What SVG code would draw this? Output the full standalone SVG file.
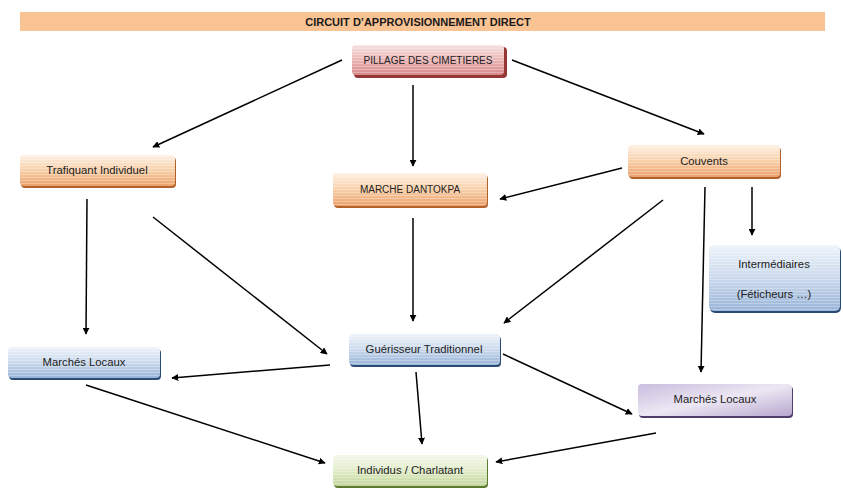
<svg xmlns="http://www.w3.org/2000/svg" width="843" height="488" viewBox="0 0 843 488">
<defs>
<style>
.lbl{font-family:"Liberation Sans","Open Sans",Arial,sans-serif;font-size:11.3px;fill:#222;text-anchor:middle;dominant-baseline:central}
.up{font-size:10px}
.title{font-family:"Liberation Sans","Open Sans",Arial,sans-serif;font-size:11px;font-weight:bold;fill:#1a1a1a;text-anchor:middle;dominant-baseline:central}
.con line{stroke:#000;stroke-width:1.5;marker-end:url(#ah)}
.stripes{fill:url(#str)}
</style>
<marker id="ah" viewBox="0 0 10 10" refX="9" refY="5" markerWidth="7" markerHeight="7" orient="auto" markerUnits="userSpaceOnUse">
<path d="M0,0 L10,5 L0,10 z" fill="#000"/>
</marker>
<pattern id="str" width="4" height="3" patternUnits="userSpaceOnUse">
<rect width="4" height="1" fill="#fff" fill-opacity="0.28"/>
</pattern>
<linearGradient id="gOr" x1="0" y1="0" x2="0" y2="1">
<stop offset="0" stop-color="#fdf0e4"/><stop offset="0.5" stop-color="#f8cfa8"/><stop offset="1" stop-color="#eba06a"/>
</linearGradient>
<linearGradient id="gBl" x1="0" y1="0" x2="0" y2="1">
<stop offset="0" stop-color="#eef3fa"/><stop offset="0.5" stop-color="#cad9ec"/><stop offset="1" stop-color="#98b4d8"/>
</linearGradient>
<linearGradient id="gPu" x1="0" y1="0" x2="1" y2="1">
<stop offset="0" stop-color="#cabddf"/><stop offset="0.5" stop-color="#ece7f3"/><stop offset="1" stop-color="#b8a8cf"/>
</linearGradient>
<linearGradient id="gGr" x1="0" y1="0" x2="0" y2="1">
<stop offset="0" stop-color="#f4f8ea"/><stop offset="0.5" stop-color="#e1ecc9"/><stop offset="1" stop-color="#c3d69b"/>
</linearGradient>
<linearGradient id="gRd" x1="0" y1="0" x2="0" y2="1">
<stop offset="0" stop-color="#f7e0e0"/><stop offset="0.5" stop-color="#eab5b4"/><stop offset="1" stop-color="#d78886"/>
</linearGradient>
</defs>
<rect width="843" height="488" fill="#fff"/>

<g id="title">
<rect x="20" y="12" width="805" height="19" fill="#fac393"/>
<text class="title" x="418" y="22">CIRCUIT D’APPROVISIONNEMENT DIRECT</text>
</g>

<g class="con">
<line x1="342" y1="60" x2="153" y2="147"/>
<line x1="413" y1="85" x2="413" y2="166"/>
<line x1="512" y1="60" x2="704" y2="134"/>
<line x1="622" y1="168" x2="500" y2="199"/>
<line x1="752" y1="187" x2="752" y2="235"/>
<line x1="663" y1="200" x2="504" y2="323"/>
<line x1="705" y1="187" x2="701" y2="372"/>
<line x1="87" y1="199" x2="86" y2="334"/>
<line x1="153" y1="217" x2="327" y2="354"/>
<line x1="413" y1="218" x2="413" y2="321"/>
<line x1="330" y1="365" x2="172" y2="378"/>
<line x1="416" y1="372" x2="422" y2="444"/>
<line x1="503" y1="354" x2="632" y2="414"/>
<line x1="86" y1="385" x2="325" y2="463"/>
<line x1="656" y1="433" x2="496" y2="462"/>
</g>

<g id="pillage">
<rect x="354" y="47" width="153" height="31" rx="4" fill="#953735"/>
<rect x="352" y="45" width="152" height="30" rx="4" fill="url(#gRd)"/>
<rect x="352" y="45" width="152" height="30" rx="4" class="stripes"/>
<text class="lbl up" x="428" y="60">PILLAGE DES CIMETIERES</text>
</g>

<g id="trafiquant">
<rect x="21" y="157" width="155" height="31" rx="4" fill="#b5622a"/>
<rect x="20" y="155" width="155" height="31" rx="4" fill="url(#gOr)"/>
<rect x="20" y="155" width="155" height="31" rx="4" class="stripes"/>
<text class="lbl" x="97" y="170">Trafiquant Individuel</text>
</g>

<g id="dantokpa">
<rect x="334" y="175" width="154" height="33" rx="4" fill="#b5622a"/>
<rect x="333" y="173" width="154" height="33" rx="4" fill="url(#gOr)"/>
<rect x="333" y="173" width="154" height="33" rx="4" class="stripes"/>
<text class="lbl up" x="410" y="189">MARCHE DANTOKPA</text>
</g>

<g id="couvents">
<rect x="629" y="147" width="152" height="32" rx="4" fill="#b5622a"/>
<rect x="628" y="145" width="152" height="32" rx="4" fill="url(#gOr)"/>
<rect x="628" y="145" width="152" height="32" rx="4" class="stripes"/>
<text class="lbl" x="704" y="161">Couvents</text>
</g>

<g id="intermediaires">
<rect x="710" y="247" width="131" height="66" rx="5" fill="#2b4a74"/>
<rect x="709" y="245" width="131" height="66" rx="5" fill="url(#gBl)"/>
<rect x="709" y="245" width="131" height="66" rx="5" class="stripes"/>
<text class="lbl" x="774" y="264">Intermédiaires</text>
<text class="lbl" x="774" y="294">(Féticheurs …)</text>
</g>

<g id="marches-gauche">
<rect x="9" y="349" width="152" height="31" rx="4" fill="#2b4a74"/>
<rect x="8" y="347" width="152" height="31" rx="4" fill="url(#gBl)"/>
<rect x="8" y="347" width="152" height="31" rx="4" class="stripes"/>
<text class="lbl" x="84" y="362">Marchés Locaux</text>
</g>

<g id="guerisseur">
<rect x="350" y="336" width="151" height="31" rx="4" fill="#2b4a74"/>
<rect x="349" y="334" width="151" height="31" rx="4" fill="url(#gBl)"/>
<rect x="349" y="334" width="151" height="31" rx="4" class="stripes"/>
<text class="lbl" x="424" y="349">Guérisseur Traditionnel</text>
</g>

<g id="marches-droite">
<rect x="639" y="386" width="154" height="32" rx="4" fill="#4f3d6b"/>
<rect x="638" y="384" width="154" height="32" rx="4" fill="url(#gPu)"/>
<text class="lbl" x="715" y="399">Marchés Locaux</text>
</g>

<g id="individus">
<rect x="334" y="457" width="154" height="31" rx="4" fill="#5c7a2e"/>
<rect x="333" y="455" width="154" height="31" rx="4" fill="url(#gGr)"/>
<rect x="333" y="455" width="154" height="31" rx="4" class="stripes"/>
<text class="lbl" x="410" y="470">Individus / Charlatant</text>
</g>
</svg>
